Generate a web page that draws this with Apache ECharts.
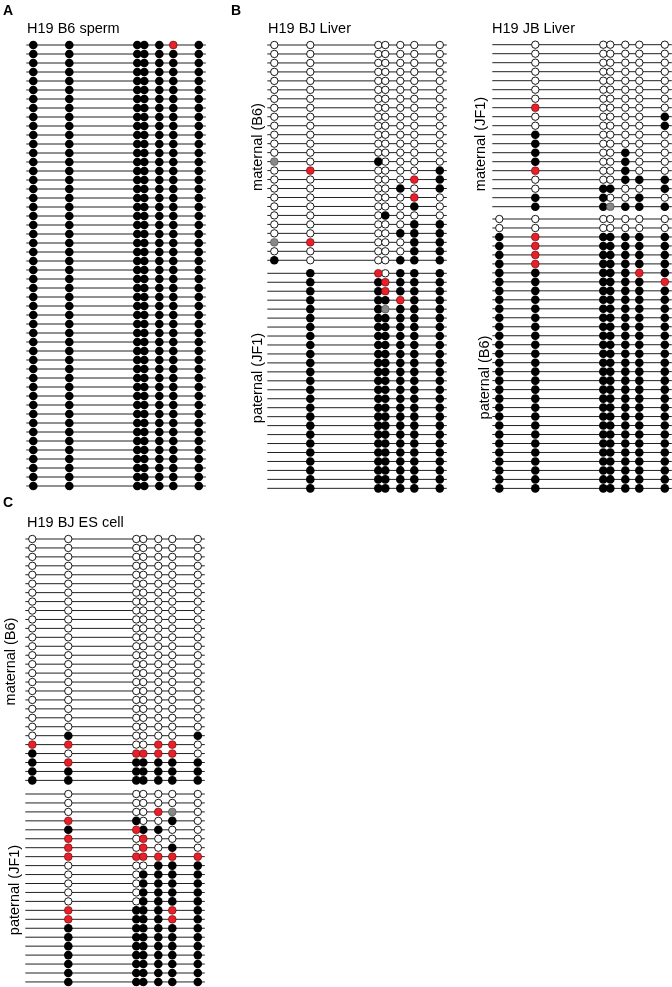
<!DOCTYPE html>
<html>
<head>
<meta charset="utf-8">
<script src="https://cdn.jsdelivr.net/npm/echarts@6/dist/echarts.min.js"></script>
<style>
  html, body { margin: 0; padding: 0; background: #fff; }
  #main { width: 672px; height: 987px; }
</style>
</head>
<body>
<div id="main"></div>
<script>
// CpG positions along the amplicon and the drawn region
var cpgPos = [0, 36, 104, 111, 126, 140, 165.5];
var regionStart = -7;
var regionEnd = 172.5;

// one string per clone, one letter per CpG
// B methylated, W unmethylated, R red, G gray, - no CpG on this allele
var spermB6 = [
    'BBBBBRB', 'BBBBBBB', 'BBBBBBB', 'BBBBBBB', 'BBBBBBB',
    'BBBBBBB', 'BBBBBBB', 'BBBBBBB', 'BBBBBBB', 'BBBBBBB',
    'BBBBBBB', 'BBBBBBB', 'BBBBBBB', 'BBBBBBB', 'BBBBBBB',
    'BBBBBBB', 'BBBBBBB', 'BBBBBBB', 'BBBBBBB', 'BBBBBBB',
    'BBBBBBB', 'BBBBBBB', 'BBBBBBB', 'BBBBBBB', 'BBBBBBB',
    'BBBBBBB', 'BBBBBBB', 'BBBBBBB', 'BBBBBBB', 'BBBBBBB',
    'BBBBBBB', 'BBBBBBB', 'BBBBBBB', 'BBBBBBB', 'BBBBBBB',
    'BBBBBBB', 'BBBBBBB', 'BBBBBBB', 'BBBBBBB', 'BBBBBBB',
    'BBBBBBB', 'BBBBBBB', 'BBBBBBB', 'BBBBBBB', 'BBBBBBB',
    'BBBBBBB', 'BBBBBBB', 'BBBBBBB', 'BBBBBBB', 'BBBBBBB'
];

var bjLiverMat = [
    'WWWWWWW', 'WWWWWWW', 'WWWWWWW', 'WWWWWWW', 'WWWWWWW',
    'WWWWWWW', 'WWWWWWW', 'WWWWWWW', 'WWWWWWW', 'WWWWWWW',
    'WWWWWWW', 'WWWWWWW', 'WWWWWWW', 'GWBWWWW', 'WRWWWWB',
    'WWWWWRB', 'WWWWBWB', 'WWWWWRW', 'WWWWWBW', 'WWWBWWW',
    'WWWWWBB', 'WWWWBBB', 'GRWWWBB', 'WWWWWBB', 'BWWWBBB'
];
var bjLiverPat = [
    '-BRWBBB', '-BBRBBB', '-BBRBBB', '-BBBRBB', '-BBGBBB',
    '-BBBBBB', '-BBBBBB', '-BBBBBB', '-BBBBBB', '-BBBBBB',
    '-BBBBBB', '-BBBBBB', '-BBBBBB', '-BBBBBB', '-BBBBBB',
    '-BBBBBB', '-BBBBBB', '-BBBBBB', '-BBBBBB', '-BBBBBB',
    '-BBBBBB', '-BBBBBB', '-BBBBBB', '-BBBBBB', '-BBBBBB'
];

var jbLiverMat = [
    '-WWWWWW', '-WWWWWW', '-WWWWWW', '-WWWWWW', '-WWWWWW',
    '-WWWWWW', '-WWWWWW', '-RWWWWW', '-WWWWWB', '-WWWWWB',
    '-BWWWWW', '-BWWWWW', '-BWWBWW', '-BWWBWW', '-RWWBWW',
    '-WWWBBB', '-WBBWWB', '-BBWWBW', '-BBGBBB'
];
var jbLiverPat = [
    'WWWWWWW', 'WWWWWWW', 'BRBBBBB', 'BRBBBBB', 'BRBBBBB',
    'BRBBBBB', 'BBBBBRB', 'BBBBBBR', 'BBBBBBB', 'BBBBBBB',
    'BBBBBBB', 'BBBBBBB', 'BBBBBBB', 'BBBBBBB', 'BBBBBBB',
    'BBBBBBB', 'BBBBBBB', 'BBBBBBB', 'BBBBBBB', 'BBBBBBB',
    'BBBBBBB', 'BBBBBBB', 'BBBBBBB', 'BBBBBBB', 'BBBBBBB',
    'BBBBBBB', 'BBBBBBB', 'BBBBBBB', 'BBBBBBB', 'BBBBBBB',
    'BBBBBBB'
];

var bjEsMat = [
    'WWWWWWW', 'WWWWWWW', 'WWWWWWW', 'WWWWWWW', 'WWWWWWW',
    'WWWWWWW', 'WWWWWWW', 'WWWWWWW', 'WWWWWWW', 'WWWWWWW',
    'WWWWWWW', 'WWWWWWW', 'WWWWWWW', 'WWWWWWW', 'WWWWWWW',
    'WWWWWWW', 'WWWWWWW', 'WWWWWWW', 'WWWWWWW', 'WWWWWWW',
    'WWWWWWW', 'WWWWWWW', 'WBWWWWB', 'RRWWRRW', 'BWRRRRW',
    'BRBBBBB', 'BBBBBBB', 'BBBBBBB'
];
var bjEsPat = [
    '-WWWWWW', '-WWWWWW', '-WWWRGW', '-RBWWBW', '-BRBBWW',
    '-RWRWWW', '-RWRWBW', '-RRRRRR', '-WWWBBB', '-WWBBBB',
    '-WWBBBB', '-WWBBBB', '-WWBBBB', '-RBBBRB', '-RBBBRB',
    '-BBBBBB', '-BBBBBB', '-BBBBBB', '-BBBBBB', '-BBBBBB',
    '-BBBBBB', '-BBBBBB'
];

// where each block of clones sits on the page
var blocks = [
    { rows: spermB6,    left: 26.3,  top: 45,    step: 9 },
    { rows: bjLiverMat, left: 267.3, top: 45,    step: 8.97 },
    { rows: bjLiverPat, left: 267.3, top: 273.3, step: 8.96 },
    { rows: jbLiverMat, left: 492.3, top: 44.7,  step: 9 },
    { rows: jbLiverPat, left: 492.3, top: 219,   step: 8.98 },
    { rows: bjEsMat,    left: 25.3,  top: 539,   step: 8.94 },
    { rows: bjEsPat,    left: 25.3,  top: 794,   step: 8.95 }
];

var stateStyle = {
    W: { size: 7.4, itemStyle: { color: '#fff', borderColor: '#000', borderWidth: 0.9, opacity: 1 } },
    B: { size: 8.6, itemStyle: { color: '#000', opacity: 1 } },
    R: { size: 7.8, itemStyle: { color: '#e8202a', borderColor: '#5a0a0a', borderWidth: 0.6, opacity: 1 } },
    G: { size: 7.8, itemStyle: { color: '#888', borderColor: '#444', borderWidth: 0.6, opacity: 1 } }
};

var font = "'Liberation Sans', Arial, Helvetica, sans-serif";

var chart = echarts.init(document.getElementById('main'));

var grids = [], xAxes = [], yAxes = [], series = [];

blocks.forEach(function (blk, k) {
    var n = blk.rows.length;
    grids.push({ left: blk.left, top: blk.top, width: regionEnd - regionStart, height: (n - 1) * blk.step });
    xAxes.push({ gridIndex: k, type: 'value', min: regionStart, max: regionEnd, show: false });
    yAxes.push({ gridIndex: k, type: 'value', min: 0, max: n - 1, inverse: true, show: false });

    // one horizontal line per clone
    var lineData = blk.rows.map(function (r, i) { return [regionStart, i, regionEnd]; });
    series.push({
        type: 'custom',
        xAxisIndex: k,
        yAxisIndex: k,
        silent: true,
        encode: { x: [0, 2], y: 1 },
        data: lineData,
        renderItem: function (params, api) {
            var p1 = api.coord([api.value(0), api.value(1)]);
            var p2 = api.coord([api.value(2), api.value(1)]);
            return {
                type: 'line',
                shape: { x1: p1[0], y1: p1[1], x2: p2[0], y2: p2[1] },
                style: { stroke: '#222', lineWidth: 1 }
            };
        },
        z: 1
    });

    // circles, one series per state
    ['W', 'B', 'R', 'G'].forEach(function (s) {
        var pts = [];
        blk.rows.forEach(function (r, i) {
            for (var j = 0; j < r.length; j++) {
                if (r[j] === s) pts.push([cpgPos[j], i]);
            }
        });
        series.push({
            type: 'scatter',
            xAxisIndex: k,
            yAxisIndex: k,
            silent: true,
            symbol: 'circle',
            symbolSize: stateStyle[s].size,
            itemStyle: stateStyle[s].itemStyle,
            data: pts,
            z: 2
        });
    });
});

function txt(x, y, s, opts) {
    opts = opts || {};
    return {
        type: 'text',
        x: x,
        y: y,
        rotation: opts.rot || 0,
        silent: true,
        style: {
            text: s,
            fill: '#000',
            font: (opts.bold ? 'bold ' : '') + (opts.size || 14.5) + 'px ' + font,
            textAlign: opts.align || 'left',
            textVerticalAlign: 'middle'
        }
    };
}

var rot = Math.PI / 2;
var texts = [
    txt(3, 11.5, 'A', { bold: true, size: 14 }),
    txt(231, 11.5, 'B', { bold: true, size: 14 }),
    txt(3, 503, 'C', { bold: true, size: 14 }),
    txt(27, 28.5, 'H19 B6 sperm'),
    txt(268, 28.5, 'H19 BJ Liver'),
    txt(492, 28.5, 'H19 JB Liver'),
    txt(27, 523, 'H19 BJ ES cell'),
    txt(257.5, 147, 'maternal (B6)', { rot: rot, align: 'center' }),
    txt(257.5, 378, 'paternal (JF1)', { rot: rot, align: 'center' }),
    txt(480.5, 144, 'maternal (JF1)', { rot: rot, align: 'center' }),
    txt(484.5, 377.5, 'paternal (B6)', { rot: rot, align: 'center' }),
    txt(10.5, 661.5, 'maternal (B6)', { rot: rot, align: 'center' }),
    txt(14.5, 890, 'paternal (JF1)', { rot: rot, align: 'center' })
];

var option = {
    backgroundColor: '#fff',
    animation: false,
    grid: grids,
    xAxis: xAxes,
    yAxis: yAxes,
    series: series,
    graphic: texts
};

chart.setOption(option);
</script>
</body>
</html>
